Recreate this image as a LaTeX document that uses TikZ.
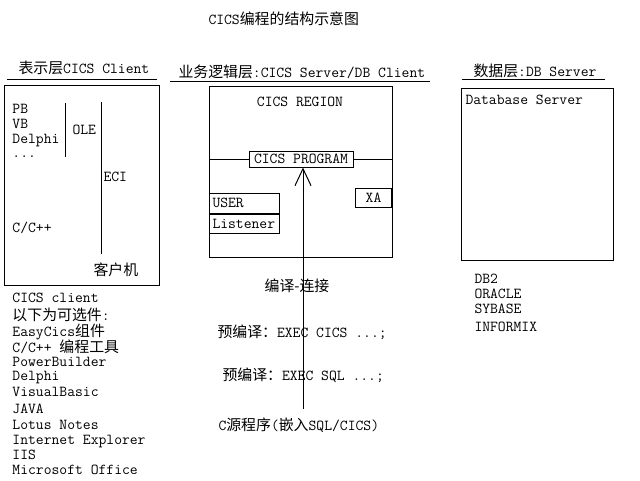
\documentclass[tikz,border=0pt]{standalone}
\usepackage{fontspec}
\usepackage{tikz}
\usetikzlibrary{positioning,arrows.meta}
\newfontfamily\cjkfont[Scale=0.98]{Noto Sans CJK SC}
\newcommand{\zh}[1]{{\cjkfont #1}}
\tikzset{
    lbl/.style={inner sep=0pt, anchor=base west, font=\ttfamily\fontsize{15.2}{16}\selectfont},
    tbox/.style={draw, line width=1pt, inner sep=0pt, font=\ttfamily\fontsize{15.2}{16}\selectfont},
}

\begin{document}
\begin{tikzpicture}[x=1pt,y=-1pt,line width=1pt]
    \useasboundingbox (0,0) rectangle (640,480);

    % Title
    \node[lbl] (title) at (208,24) {CICS\zh{编程的结构示意图}};

    % Layer headings
    \node[lbl] (hpres) at (18,73) {\zh{表示层}CICS Client};
    \node[lbl] (hlogic) at (178,77) {\zh{业务逻辑层}:CICS Server/DB Client};
    \node[lbl] (hdata) at (473,76) {\zh{数据层}:DB Server};
    \draw (7,79) -- (157,79);
    \draw (170,81) -- (430,81);
    \draw (462,79) -- (605,79);

    % Client box
    \node[tbox, anchor=north west, minimum width=155pt, minimum height=200pt] (client) at (4,85) {};
    \foreach \y/\txt in {113/PB,128/VB,143/Delphi,232/{C/C++}} {
        \node[lbl] (app\y) at (12,\y) {\txt};
    }
    \node[lbl] (dots) at (12,157) {...};
    \draw (65,103) -- (65,157);
    \draw (101,102) -- (101,254);
    \node[lbl] (ole) at (72,134) {OLE};
    \node[lbl] (eci) at (103,181) {ECI};
    \node[lbl] (host) at (93,275) {\zh{客户机}};

    % Client software list
    \foreach \y/\txt [count=\i] in {302/CICS client,320/{\zh{以下为可选件}:},336/{EasyCics\zh{组件}},352/{C/C++ \zh{编程工具}},366/PowerBuilder,380/Delphi,396/VisualBasic,413/JAVA,429/Lotus Notes,444/Internet Explorer,459/IIS,474/Microsoft Office} {
        \node[lbl] (opt\i) at (12,\y) {\txt};
    }

    % CICS region
    \node[tbox, anchor=north west, minimum width=183pt, minimum height=171pt] (region) at (209,86) {};
    \node[lbl, anchor=base] (rname) at (300,106) {CICS REGION};
    \node[tbox, minimum width=104pt, minimum height=16pt] (prog) at (301,159) {CICS PROGRAM};
    \draw (prog.west) -- (prog.west -| region.west);
    \draw (prog.east) -- (prog.east -| region.east);
    \node[tbox, anchor=north west, text width=64pt, inner xsep=3pt, minimum height=19.5pt, align=left] (user) at (209,193) {USER};
    \node[tbox, below=0pt of user, text width=64pt, inner xsep=3pt, minimum height=19.5pt, align=left] (listener) {Listener};
    \node[tbox, anchor=north east, minimum width=36pt, minimum height=19pt] (xa) at (392,188) {XA};

    % Build steps
    \node[lbl, anchor=base] (link) at (297,291) {\zh{编译-连接}};
    \node[lbl] (precics) at (217,337) {\zh{预编译：}EXEC CICS ...;};
    \node[lbl] (presql) at (222,380) {\zh{预编译：}EXEC SQL ...;};
    \node[lbl] (csrc) at (218,430) {C\zh{源程序}(\zh{嵌入}SQL/CICS)};
    \coordinate (tip) at ([xshift=2pt]prog.south);
    \draw[-{Straight Barb[length=17pt,width=16pt]}] ([yshift=8pt]csrc.north -| tip) -- (tip);

    % Database box
    \node[tbox, anchor=north west, minimum width=152pt, minimum height=172pt] (dbsrv) at (461,88) {};
    \node[lbl] (dbname) at (465,104) {Database Server};
    \foreach \y/\txt in {283/DB2,298/ORACLE,313/SYBASE,331/INFORMIX} {
        \node[lbl] (db\txt) at (474,\y) {\txt};
    }
\end{tikzpicture}
\end{document}
